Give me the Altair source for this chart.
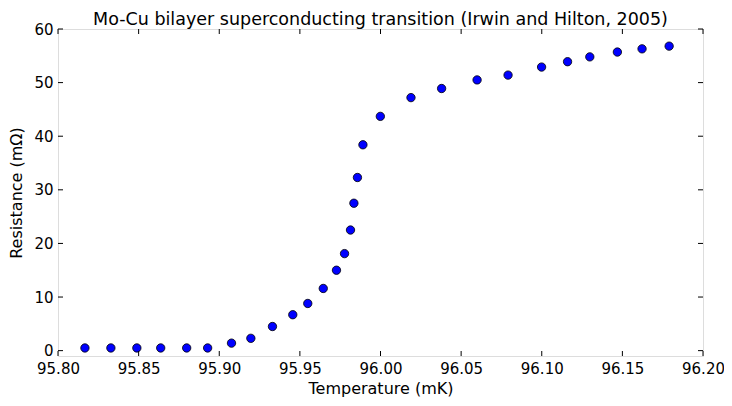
import altair as alt
import pandas as pd

temperature = [95.8167, 95.8328, 95.8489, 95.8637, 95.8798, 95.8928,
               95.9076, 95.9196, 95.9330, 95.9456, 95.9549, 95.9645,
               95.9727, 95.9777, 95.9814, 95.9835, 95.9857, 95.9891,
               95.9999, 96.0189, 96.0379, 96.0599, 96.0791, 96.0999,
               96.1160, 96.1298, 96.1469, 96.1622, 96.1790]
resistance = [0.5, 0.5, 0.5, 0.5, 0.5, 0.5,
              1.4, 2.3, 4.5, 6.7, 8.8, 11.6,
              15.0, 18.1, 22.5, 27.5, 32.3, 38.4,
              43.7, 47.2, 48.9, 50.5, 51.4, 52.9,
              53.9, 54.8, 55.7, 56.3, 56.8]
xticks = [95.80, 95.85, 95.90, 95.95, 96.00, 96.05, 96.10, 96.15, 96.20]
yticks = [0, 10, 20, 30, 40, 50, 60]

W, H = 645, 327
FONT = "DejaVu Sans"

df = pd.DataFrame({"T": temperature, "R": resistance})
dfx = pd.DataFrame({"T": xticks})
dfy = pd.DataFrame({"R": yticks})

xscale = alt.Scale(domain=[95.8, 96.2], nice=False, zero=False)
yscale = alt.Scale(domain=[-1, 60], nice=False, zero=False)

xaxis = alt.Axis(values=xticks, format=".2f", tickSize=0, domain=False,
                 grid=False, labelPadding=5, titlePadding=4,
                 labelFlush=False, labelOverlap=False,
                 labelFont=FONT, labelFontSize=15, labelColor="black",
                 titleFont=FONT, titleFontSize=16, titleFontWeight="normal",
                 titleColor="black")
yaxis = alt.Axis(values=yticks, tickSize=0, domain=False, grid=False,
                 labelPadding=5, titlePadding=9,
                 labelFlush=False, labelOverlap=False,
                 labelFont=FONT, labelFontSize=15, labelColor="black",
                 titleFont=FONT, titleFontSize=16, titleFontWeight="normal",
                 titleColor="black")
XT = "Temperature (mK)"
YT = "Resistance (mΩ)"

points = alt.Chart(df).mark_point(
    shape="circle", filled=True, fill="#0000ff", stroke="black",
    strokeWidth=0.8, size=70, opacity=1
).encode(
    x=alt.X("T:Q", scale=xscale, title=XT, axis=xaxis),
    y=alt.Y("R:Q", scale=yscale, title=YT, axis=yaxis),
)

tick_len = 5
bottom = alt.Chart(dfx).mark_rule(color="black", strokeWidth=1).encode(
    x=alt.X("T:Q", scale=xscale, title=XT, axis=xaxis),
    y=alt.value(H), y2=alt.value(H - tick_len))
top = alt.Chart(dfx).mark_rule(color="black", strokeWidth=1).encode(
    x=alt.X("T:Q", scale=xscale, title=XT, axis=xaxis),
    y=alt.value(0), y2=alt.value(tick_len))
left = alt.Chart(dfy).mark_rule(color="black", strokeWidth=1).encode(
    y=alt.Y("R:Q", scale=yscale, title=YT, axis=yaxis),
    x=alt.value(0), x2=alt.value(tick_len))
right = alt.Chart(dfy).mark_rule(color="black", strokeWidth=1).encode(
    y=alt.Y("R:Q", scale=yscale, title=YT, axis=yaxis),
    x=alt.value(W), x2=alt.value(W - tick_len))

chart = alt.layer(points, bottom, top, left, right).properties(
    width=W, height=H,
    title=alt.TitleParams("Mo-Cu bilayer superconducting transition (Irwin and Hilton, 2005)",
                          font=FONT, fontSize=17.5, fontWeight="normal", color="black",
                          anchor="middle", offset=4, dy=10.5),
    autosize=alt.AutoSizeParams(type="none"),
    padding={"left": 50, "top": 21, "right": 21, "bottom": 42},
).configure_view(stroke="black", strokeWidth=1).configure(background="white")

chart.save("out.html", embed_options={"renderer": "svg", "actions": False})
